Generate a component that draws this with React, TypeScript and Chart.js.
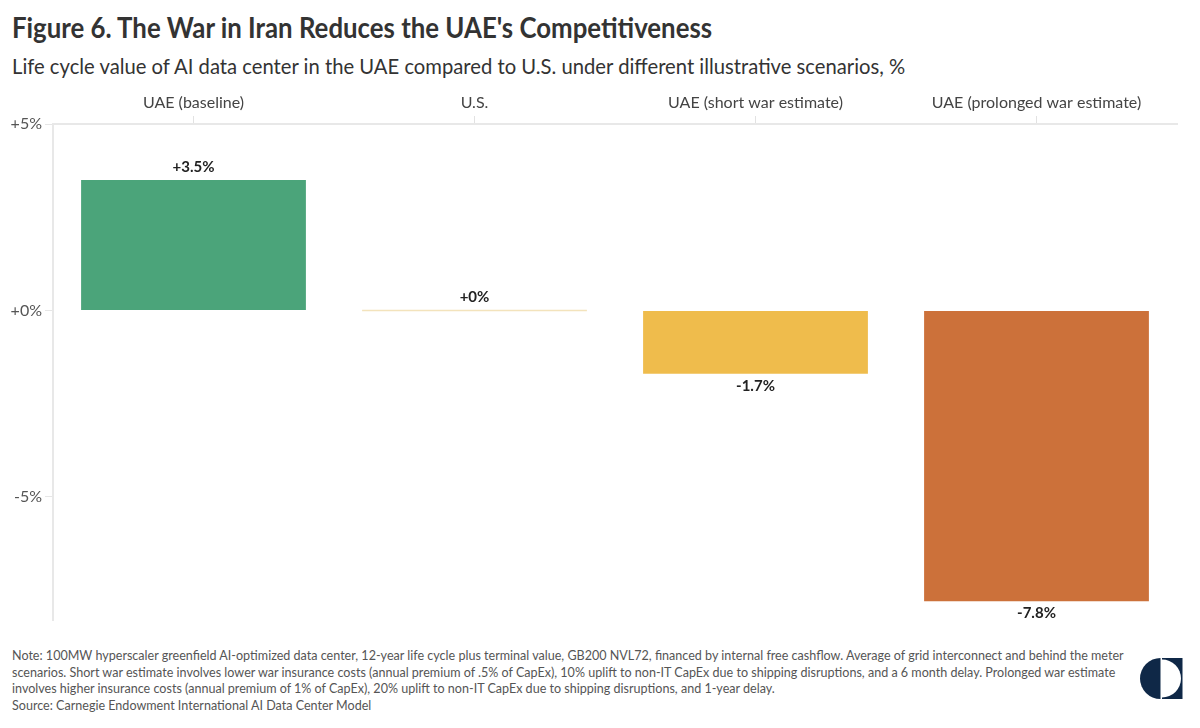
import React, { useEffect, useRef } from "react";
import { Chart, registerables } from "chart.js";

Chart.register(...registerables);

const categories = ["UAE (baseline)", "U.S.", "UAE (short war estimate)", "UAE (prolonged war estimate)"];
const values = [3.5, 0, -1.7, -7.8];
const valueLabels = ["+3.5%", "+0%", "-1.7%", "-7.8%"];
const barColors = ["#4BA47A", "#F3E3BC", "#EFBC4C", "#CC713A"];
const yTickValues = [-5, 0, 5];

const FONT = "Lato, 'Source Sans Pro', sans-serif";

const noteLines = [
  "Note: 100MW hyperscaler greenfield AI-optimized data center, 12-year life cycle plus terminal value, GB200 NVL72, financed by internal free cashflow. Average of grid interconnect and behind the meter",
  "scenarios. Short war estimate involves lower war insurance costs (annual premium of .5% of CapEx), 10% uplift to non-IT CapEx due to shipping disruptions, and a 6 month delay. Prolonged war estimate",
  "involves higher insurance costs (annual premium of 1% of CapEx), 20% uplift to non-IT CapEx due to shipping disruptions, and 1-year delay.",
  "Source: Carnegie Endowment International AI Data Center Model",
];

const labelPlugin = {
  id: "valueLabels",
  afterDatasetsDraw(chart: any) {
    const ctx = chart.ctx;
    const meta = chart.getDatasetMeta(0);
    ctx.save();
    meta.data.forEach((bar: any, i: number) => {
      const v = values[i];
      const half = bar.width / 2;
      if (v === 0) {
        ctx.strokeStyle = barColors[i];
        ctx.lineWidth = 1.5;
        ctx.beginPath();
        ctx.moveTo(bar.x - half, bar.y);
        ctx.lineTo(bar.x + half, bar.y);
        ctx.stroke();
      }
      ctx.fillStyle = "#222";
      ctx.font = `bold 15px ${FONT}`;
      ctx.textAlign = "center";
      ctx.textBaseline = "middle";
      const y = v >= 0 ? bar.y - 13 : bar.y + 12;
      ctx.fillText(valueLabels[i], bar.x, y);
    });
    ctx.restore();
  },
};

export default function App() {
  const ref = useRef<HTMLCanvasElement | null>(null);
  useEffect(() => {
    if (!ref.current) return;
    const chart = new Chart(ref.current, {
      type: "bar",
      data: {
        labels: categories,
        datasets: [
          {
            data: values,
            backgroundColor: barColors,
            barPercentage: 0.8,
            categoryPercentage: 1,
          },
        ],
      },
      options: {
        animation: false,
        responsive: false,
        maintainAspectRatio: false,
        devicePixelRatio: 1,
        layout: { padding: { top: 85, bottom: 20, left: 0, right: 23 } },
        plugins: { legend: { display: false }, tooltip: { enabled: false } },
        scales: {
          x: {
            position: "top",
            grid: { drawOnChartArea: false, color: "#e2e2e2", tickLength: 8, offset: false },
            border: { color: "#e8e8e8", width: 2 },
            ticks: { color: "#444", font: { family: FONT, size: 16 }, padding: 4, maxRotation: 0 },
            afterFit: (s: any) => { s.height = 39; },
          },
          y: {
            min: -8.3,
            max: 5,
            grid: { drawOnChartArea: false, color: "#e6e6e6", tickLength: 8 },
            border: { color: "#e8e8e8", width: 2 },
            afterBuildTicks: (s: any) => { s.ticks = yTickValues.map((v) => ({ value: v })); },
            ticks: {
              color: "#555",
              font: { family: FONT, size: 16 },
              padding: 3,
              callback: (v: any) => (v > 0 ? `+${v}%` : v === 0 ? "+0%" : `${v}%`),
            },
            afterFit: (s: any) => { s.width = 53; },
          },
        },
      },
      plugins: [labelPlugin],
    });
    return () => chart.destroy();
  }, []);

  return (
    <div style={{ position: "fixed", left: 0, top: 0, width: 1200, height: 728, background: "#fff", fontFamily: FONT, overflow: "hidden" }}>
      <div style={{ position: "absolute", left: 12, top: 10, fontSize: 28, fontWeight: 700, color: "#333", whiteSpace: "nowrap", transform: "scaleX(0.921)", transformOrigin: "left top" }}>
        Figure 6. The War in Iran Reduces the UAE's Competitiveness
      </div>
      <div style={{ position: "absolute", left: 12, top: 53, fontSize: 21, color: "#333", whiteSpace: "nowrap", transform: "scaleX(0.963)", transformOrigin: "left top" }}>
        Life cycle value of AI data center in the UAE compared to U.S. under different illustrative scenarios, %
      </div>
      <canvas ref={ref} width={1200} height={640} style={{ position: "absolute", left: 0, top: 0, width: 1200, height: 640 }} />
      <div style={{ position: "absolute", left: 12, top: 647, fontSize: 13.5, lineHeight: "16.6px", color: "#555", transform: "scaleX(0.93)", transformOrigin: "left top" }}>
        {noteLines.map((l, i) => (
          <div key={i} style={{ whiteSpace: "nowrap" }}>{l}</div>
        ))}
      </div>
      <svg style={{ position: "absolute", left: 1140, top: 657 }} width={43} height={43} viewBox="0 0 43 43">
        <path d="M20.5 1 A20.5 20.5 0 0 0 20.5 42 Z" fill="#0F2847" />
        <rect x={22} y={1} width={20.5} height={41} fill="#0F2847" />
        <path d="M22 2.5 A19 19 0 0 1 22 40.5 Z" fill="#fff" />
      </svg>
    </div>
  );
}
